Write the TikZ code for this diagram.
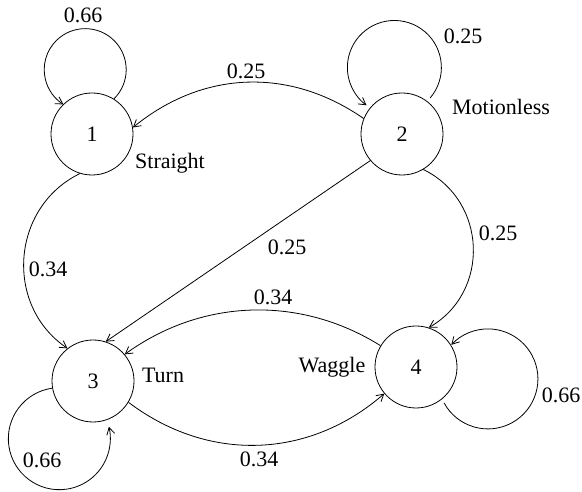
\documentclass[tikz,border=0pt]{standalone}
\usepackage{fontspec}
\setmainfont{Liberation Serif}
\usetikzlibrary{arrows.meta}
\begin{document}
\begin{tikzpicture}[x=1bp,y=1bp,
  every node/.style={font=\fontsize{22bp}{26bp}\selectfont},
  state/.style={circle,draw,line width=0.8pt,minimum size=82bp,inner sep=0pt},
  lbl/.style={inner sep=0pt},
  edge/.style={line width=0.8pt,-{Straight Barb[length=7bp,width=8bp,line width=0.8pt]}}]
\useasboundingbox (0,0) rectangle (582,492);
\node[state] (n1) at (92,358) {1};
\node[state] (n2) at (402,358) {2};
\node[state] (n3) at (93,111) {3};
\node[state] (n4) at (416,125) {4};
% self loops
\draw[edge] (n1.58) arc[start angle=-45.5, end angle=238, radius=41];
\draw[edge] ([shift={(52:45.6)}]n2.center) arc[start angle=-40.6, end angle=233.6, radius=47];
\draw[edge] (n3.190) arc[start angle=98, end angle=373.6, radius=51];
\draw[edge] ([shift={(308:45.6)}]n4.center) arc[start angle=208.7, end angle=497, radius=50];
% transitions
\draw[edge] (n2.158) to[bend right=37] (n1.9);
\draw[edge] (n1.253) to[bend right=60,looseness=1.12] (n3.128);
\draw[edge] (n2.220) -- (n3.72);
\draw[edge] (n2.301) to[bend left=62,looseness=1.15] (n4.72);
\draw[edge] (n4.149) to[bend right=34,looseness=0.95] (n3.40);
\draw[edge] (n3.329) to[bend right=39] (n4.220);
% labels
\node[lbl] (l11) at (83,477) {0.66};
\node[lbl] (l21) at (246,421) {0.25};
\node[lbl] (ls) at (170,329) {Straight};
\node[lbl] (l22) at (463,456) {0.25};
\node[lbl] (lm) at (501,385) {Motionless};
\node[lbl] (l24) at (498,259) {0.25};
\node[lbl] (l23) at (287,245) {0.25};
\node[lbl] (l13) at (48,223) {0.34};
\node[lbl] (l43) at (273,195) {0.34};
\node[lbl] (lt) at (163,117) {Turn};
\node[lbl] (l33) at (42,32) {0.66};
\node[lbl] (l34) at (259,33) {0.34};
\node[lbl] (lw) at (332,125) {Waggle};
\node[lbl] (l44) at (561,97) {0.66};
\end{tikzpicture}
\end{document}
